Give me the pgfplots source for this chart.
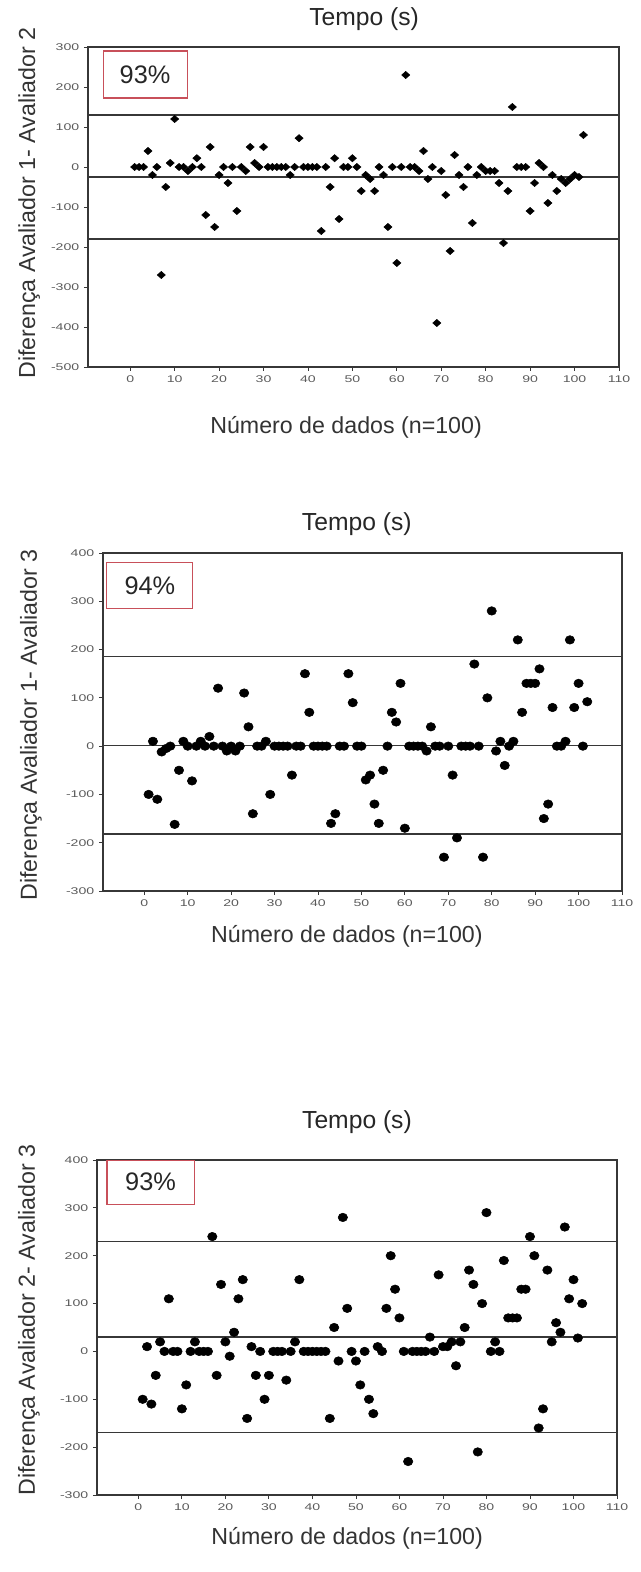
\documentclass[border=0pt]{standalone}
\usepackage{fontspec}
\setmainfont{Liberation Sans}
\newfontfamily\tickfont[FakeStretch=1.45]{Liberation Sans}
\usepackage{pgfplots}
\pgfplotsset{compat=1.18}
\definecolor{axgray}{RGB}{55,55,55}
\definecolor{tickgray}{RGB}{90,90,90}
\definecolor{boxred}{RGB}{200,80,90}

\pgfplotsset{
  ba/.style={
    scale only axis,
    anchor=south west,
    xmin=-9.5, xmax=110,
    xtick={0,10,...,110},
    xticklabels={0,10,20,30,40,50,60,70,80,90,100,110},
    xtick pos=bottom, ytick pos=left,
    tick align=outside,
    major tick length=3pt,
    tick style={axgray, line width=0.6pt},
    axis line style={axgray, line width=0.9pt},
    tick label style={font=\tickfont\fontsize{7.3}{8}\selectfont, text=tickgray},
    label style={font=\fontsize{17.4}{20}\selectfont, text=black!80},
    title style={font=\fontsize{18.5}{22}\selectfont, text=black!85, anchor=center, yshift=0pt},
  },
  limline/.style={axgray, line width=0.9pt, no marks},
  dia/.style={only marks, mark=diamond*, mark size=2.7pt, mark options={xscale=1.5, fill=black, draw=black}},
  dot/.style={only marks, mark=*, mark size=3.2pt, mark options={xscale=1.1, fill=black, draw=black}},
}

\begin{document}
\begin{tikzpicture}
\useasboundingbox (0,0) rectangle (480.75pt,1179pt);

% ---- painel 1: Avaliador 1 - Avaliador 2
\begin{axis}[ba,
  at={(66pt,903.75pt)}, width=398.25pt, height=240pt,
  ymin=-500, ymax=300,
  ytick={-500,-400,...,300},
  yticklabels={-500,-400,-300,-200,-100,0,100,200,300},
  title={Tempo (s)},
  title style={at={(axis description cs:0.52,1.0625)}},
  xlabel={Número de dados (n=100)},
  xlabel style={at={(axis description cs:0.486,-0.1875)}, anchor=center},
  ylabel={Diferença Avaliador 1- Avaliador 2},
  ylabel style={at={(axis description cs:-0.111,0.5125)}, anchor=center},
]
\addplot[limline] coordinates {(-9.5,130) (110,130)};
\addplot[limline] coordinates {(-9.5,-25) (110,-25)};
\addplot[limline] coordinates {(-9.5,-180) (110,-180)};
\addplot[dia] coordinates {
(1,0)(2,0)(3,0)(4,40)(5,-20)(6,0)(7,-270)(8,-50)(9,10)(10,120)
(11,0)(12,0)(13,-10)(14,0)(15,22)(16,0)(17,-120)(18,50)(19,-150)(20,-20)
(21,0)(22,-40)(23,0)(24,-110)(25,0)(26,-10)(27,50)(28,10)(29,0)(30,50)
(31,0)(32,0)(33,0)(34,0)(35,0)(36,-20)(37,0)(38,72)(39,0)(40,0)
(41,0)(42,0)(43,-160)(44,0)(45,-50)(46,22)(47,-130)(48,0)(49,0)(50,22)
(51,0)(52,-60)(53,-20)(54,-30)(55,-60)(56,0)(57,-20)(58,-150)(59,0)(60,-240)
(61,0)(62,230)(63,0)(64,0)(65,-10)(66,40)(67,-30)(68,0)(69,-390)(70,-10)
(71,-70)(72,-210)(73,30)(74,-20)(75,-50)(76,0)(77,-140)(78,-20)(79,0)(80,-10)
(81,-10)(82,-10)(83,-40)(84,-190)(85,-60)(86,150)(87,0)(88,0)(89,0)(90,-110)
(91,-40)(92,10)(93,0)(94,-90)(95,-20)(96,-60)(97,-30)(98,-40)(99,-30)(100,-20)
(101,-25)(102,80)
};
\draw[boxred, line width=0.8pt] (axis cs:-6.1,172.5) rectangle (axis cs:12.8,290);
\node[font=\fontsize{19}{22}\selectfont, text=black!85] at (axis cs:3.35,231) {93\%};
\end{axis}

% ---- painel 2: Avaliador 1 - Avaliador 3
\begin{axis}[ba,
  at={(77.25pt,510.75pt)}, width=389.25pt, height=253.5pt,
  ymin=-300, ymax=400,
  ytick={-300,-200,...,400},
  yticklabels={-300,-200,-100,0,100,200,300,400},
  title={Tempo (s)},
  title style={at={(axis description cs:0.489,1.062)}},
  xlabel={Número de dados (n=100)},
  xlabel style={at={(axis description cs:0.47,-0.133)}, anchor=center},
  ylabel={Diferença Avaliador 1- Avaliador 3},
  ylabel style={at={(axis description cs:-0.139,0.491)}, anchor=center},
]
\addplot[limline] coordinates {(-9.5,185) (110,185)};
\addplot[limline] coordinates {(-9.5,2) (110,2)};
\addplot[limline] coordinates {(-9.5,-182) (110,-182)};
\addplot[dot] coordinates {
(1,-100)(2,10)(3,-110)(4,-12)(5,-5)(6,0)(7,-162)(8,-50)(9,10)(10,0)
(11,-72)(12,0)(13,10)(14,0)(15,20)(16,0)(17,120)(18,0)(19,-10)(20,0)
(21,-10)(22,0)(23,110)(24,40)(25,-140)(26,0)(27,0)(28,10)(29,-100)(30,0)
(31,0)(32,0)(33,0)(34,-60)(35,0)(36,0)(37,150)(38,70)(39,0)(40,0)
(41,0)(42,0)(43,-160)(44,-140)(45,0)(46,0)(47,150)(48,90)(49,0)(50,0)
(51,-70)(52,-60)(53,-120)(54,-160)(55,-50)(56,0)(57,70)(58,50)(59,130)(60,-170)
(61,0)(62,0)(63,0)(64,0)(65,-10)(66,40)(67,0)(68,0)(69,-230)(70,0)
(71,-60)(72,-190)(73,0)(74,0)(75,0)(76,170)(77,0)(78,-230)(79,100)(80,280)
(81,-10)(82,10)(83,-40)(84,0)(85,10)(86,220)(87,70)(88,130)(89,130)(90,130)
(91,160)(92,-150)(93,-120)(94,80)(95,0)(96,0)(97,10)(98,220)(99,80)(100,130)
(101,0)(102,92)
};
\draw[boxred, line width=0.8pt] (axis cs:-8.6,286) rectangle (axis cs:11.2,381);
\node[font=\fontsize{19}{22}\selectfont, text=black!85] at (axis cs:1.3,333) {94\%};
\end{axis}

% ---- painel 3: Avaliador 2 - Avaliador 3
\begin{axis}[ba,
  at={(72.75pt,57.75pt)}, width=390pt, height=251.25pt,
  ymin=-300, ymax=400,
  ytick={-300,-200,...,400},
  yticklabels={-300,-200,-100,0,100,200,300,400},
  title={Tempo (s)},
  title style={at={(axis description cs:0.5,1.0896)}},
  xlabel={Número de dados (n=100)},
  xlabel style={at={(axis description cs:0.481,-0.128)}, anchor=center},
  ylabel={Diferença Avaliador 2- Avaliador 3},
  ylabel style={at={(axis description cs:-0.131,0.522)}, anchor=center},
]
\addplot[limline] coordinates {(-9.5,230) (110,230)};
\addplot[limline] coordinates {(-9.5,30) (110,30)};
\addplot[limline] coordinates {(-9.5,-170) (110,-170)};
\addplot[dot] coordinates {
(1,-100)(2,10)(3,-110)(4,-50)(5,20)(6,0)(7,110)(8,0)(9,0)(10,-120)
(11,-70)(12,0)(13,20)(14,0)(15,0)(16,0)(17,240)(18,-50)(19,140)(20,20)
(21,-10)(22,40)(23,110)(24,150)(25,-140)(26,10)(27,-50)(28,0)(29,-100)(30,-50)
(31,0)(32,0)(33,0)(34,-60)(35,0)(36,20)(37,150)(38,0)(39,0)(40,0)
(41,0)(42,0)(43,0)(44,-140)(45,50)(46,-20)(47,280)(48,90)(49,0)(50,-20)
(51,-70)(52,0)(53,-100)(54,-130)(55,10)(56,0)(57,90)(58,200)(59,130)(60,70)
(61,0)(62,-230)(63,0)(64,0)(65,0)(66,0)(67,30)(68,0)(69,160)(70,10)
(71,10)(72,20)(73,-30)(74,20)(75,50)(76,170)(77,140)(78,-210)(79,100)(80,290)
(81,0)(82,20)(83,0)(84,190)(85,70)(86,70)(87,70)(88,130)(89,130)(90,240)
(91,200)(92,-160)(93,-120)(94,170)(95,20)(96,60)(97,40)(98,260)(99,110)(100,150)
(101,28)(102,100)
};
\draw[boxred, line width=0.8pt] (axis cs:-7.2,308) rectangle (axis cs:12.8,400);
\node[font=\fontsize{19}{22}\selectfont, text=black!85] at (axis cs:2.8,354) {93\%};
\end{axis}
\end{tikzpicture}
\end{document}
